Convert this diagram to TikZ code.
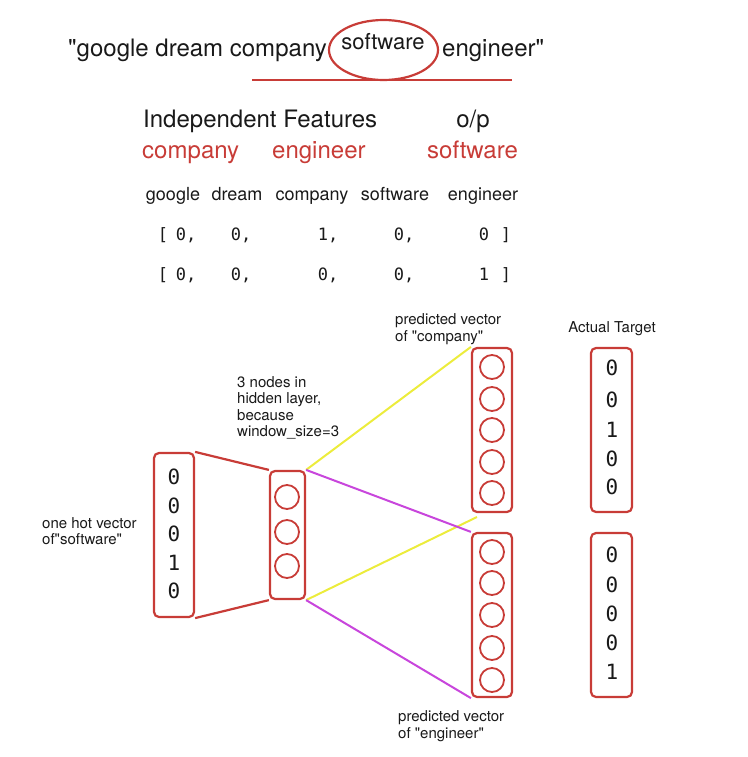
\documentclass[tikz,border=0pt]{standalone}
\usepackage{fontspec}
\setmainfont{TeX Gyre Heros}[Ligatures=TeXOff]
\newfontfamily\monof{DejaVu Sans Mono}[Numbers=SlashedZero]
\definecolor{exred}{RGB}{200,60,55}
\definecolor{exyel}{RGB}{236,236,60}
\definecolor{exmag}{RGB}{200,70,220}
\definecolor{exink}{RGB}{25,25,25}
\begin{document}
\begin{tikzpicture}[x=1pt,y=-1pt,
  txt/.style={inner sep=0pt, text=exink},
  big/.style={txt, font=\fontsize{24}{28}\selectfont},
  redbig/.style={inner sep=0pt, text=exred, font=\fontsize{24}{28}\selectfont},
  word/.style={txt, font=\fontsize{18}{21}\selectfont},
  vec/.style={txt, font=\monof\fontsize{17}{20}\selectfont},
  digit/.style={txt, font=\monof\fontsize{21}{23}\selectfont},
  lbl/.style={txt, align=left, font=\fontsize{15}{16.5}\selectfont},
  vbox/.style={draw=exred, line width=2.2pt, rounded corners=5pt, minimum width=40pt, minimum height=164pt, inner sep=0pt},
  neuron/.style={draw=exred, line width=1.8pt, circle, minimum size=24pt, inner sep=0pt},
  redline/.style={draw=exred, line width=2.2pt},
  yelline/.style={draw=exyel, line width=2pt},
  magline/.style={draw=exmag, line width=2pt}
]
\useasboundingbox (0,0) rectangle (747,757);

% title
\node[big, anchor=base west] (t1) at (68,57) {"google dream company};
\node[txt, anchor=base, font=\fontsize{22}{26}\selectfont] (tsw) at (383,50) {software};
\node[big, anchor=base west] (t2) at (442,57) {engineer"};
\draw[redline] (383.5,50) ellipse [x radius=54.5, y radius=30];
\coordinate (ul1) at (252,80);
\coordinate (ul2) at (512,80);
\draw[redline] (ul1) -- (ul2);

% features
\node[big, anchor=base west] (indep) at (143,128) {Independent Features};
\node[big, anchor=base] (op) at (473,128) {o/p};
\node[redbig, anchor=base west] (rc) at (142,158) {company};
\node[redbig, anchor=base west] (re) at (272,158) {engineer};
\node[redbig, anchor=base west] (rs) at (427,158) {software};

% vocabulary
\node[word, anchor=base] (w1) at (173,200) {google};
\node[word, anchor=base] (w2) at (237,200) {dream};
\node[word, anchor=base] (w3) at (312,200) {company};
\node[word, anchor=base] (w4) at (395,200) {software};
\node[word, anchor=base] (w5) at (483,200) {engineer};

% one-hot rows
\node[vec, anchor=base] (a0) at (163,240) {[};
\node[vec, anchor=base] (a1) at (186,240) {0,};
\node[vec, anchor=base] (a2) at (241,240) {0,};
\node[vec, anchor=base] (a3) at (328,240) {1,};
\node[vec, anchor=base] (a4) at (404,240) {0,};
\node[vec, anchor=base] (a5) at (484,240) {0};
\node[vec, anchor=base] (a6) at (506,240) {]};
\node[vec, anchor=base] (b0) at (163,280) {[};
\node[vec, anchor=base] (b1) at (186,280) {0,};
\node[vec, anchor=base] (b2) at (241,280) {0,};
\node[vec, anchor=base] (b3) at (328,280) {0,};
\node[vec, anchor=base] (b4) at (404,280) {0,};
\node[vec, anchor=base] (b5) at (484,280) {1};
\node[vec, anchor=base] (b6) at (506,280) {]};

% boxes
\node[vbox] (inp) at (174,535) {};
\node[vbox, minimum width=35pt, minimum height=128pt] (hid) at (287.5,535) {};
\node[vbox] (pc) at (492,430) {};
\node[vbox] (pe) at (492,615) {};
\node[vbox, minimum width=41pt] (tc) at (611.5,430) {};
\node[vbox, minimum width=41pt] (te) at (611.5,615) {};

% input digits
\node[digit] (i1) at (174,477) {0};
\node[digit] (i2) at (174,506) {0};
\node[digit] (i3) at (174,534) {0};
\node[digit] (i4) at (174,563) {1};
\node[digit] (i5) at (174,591) {0};

% hidden neurons
\node[neuron] (h1) at (287,497) {};
\node[neuron] (h2) at (287,532) {};
\node[neuron] (h3) at (287,566) {};

% predicted company neurons
\node[neuron] (c1) at (492,367) {};
\node[neuron] (c2) at (492,399) {};
\node[neuron] (c3) at (492,430) {};
\node[neuron] (c4) at (492,462) {};
\node[neuron] (c5) at (492,493) {};

% predicted engineer neurons
\node[neuron] (e1) at (492,552) {};
\node[neuron] (e2) at (492,583) {};
\node[neuron] (e3) at (492,615) {};
\node[neuron] (e4) at (492,648) {};
\node[neuron] (e5) at (492,680) {};

% targets
\node[digit] (x1) at (612,368) {0};
\node[digit] (x2) at (612,400) {0};
\node[digit] (x3) at (612,430) {1};
\node[digit] (x4) at (612,459) {0};
\node[digit] (x5) at (612,487) {0};
\node[digit] (y1) at (612,555) {0};
\node[digit] (y2) at (612,585) {0};
\node[digit] (y3) at (612,614) {0};
\node[digit] (y4) at (612,643) {0};
\node[digit] (y5) at (612,672) {1};

% connectors
\draw[redline] (inp.north east) -- (hid.north west);
\draw[redline] (inp.south east) -- (hid.south west);
\coordinate (yend) at (477,517);
\draw[yelline] (hid.north east) -- (pc.north west);
\draw[yelline] (hid.south east) -- (yend);
\draw[magline] (hid.north east) -- (pe.north west);
\draw[magline] (hid.south east) -- (pe.south west);

% labels
\node[lbl, anchor=west] (lh) at (237,408) {3 nodes in\\hidden layer,\\because\\window\_size=3};
\node[lbl, anchor=west] (li) at (42,531) {one hot vector\\of"software"};
\node[lbl, anchor=west] (lpc) at (395,329) {predicted vector\\of "company"};
\node[lbl, anchor=west] (lpe) at (398,726) {predicted vector\\of "engineer"};
\node[lbl] (lat) at (612,329) {Actual Target};
\end{tikzpicture}
\end{document}
